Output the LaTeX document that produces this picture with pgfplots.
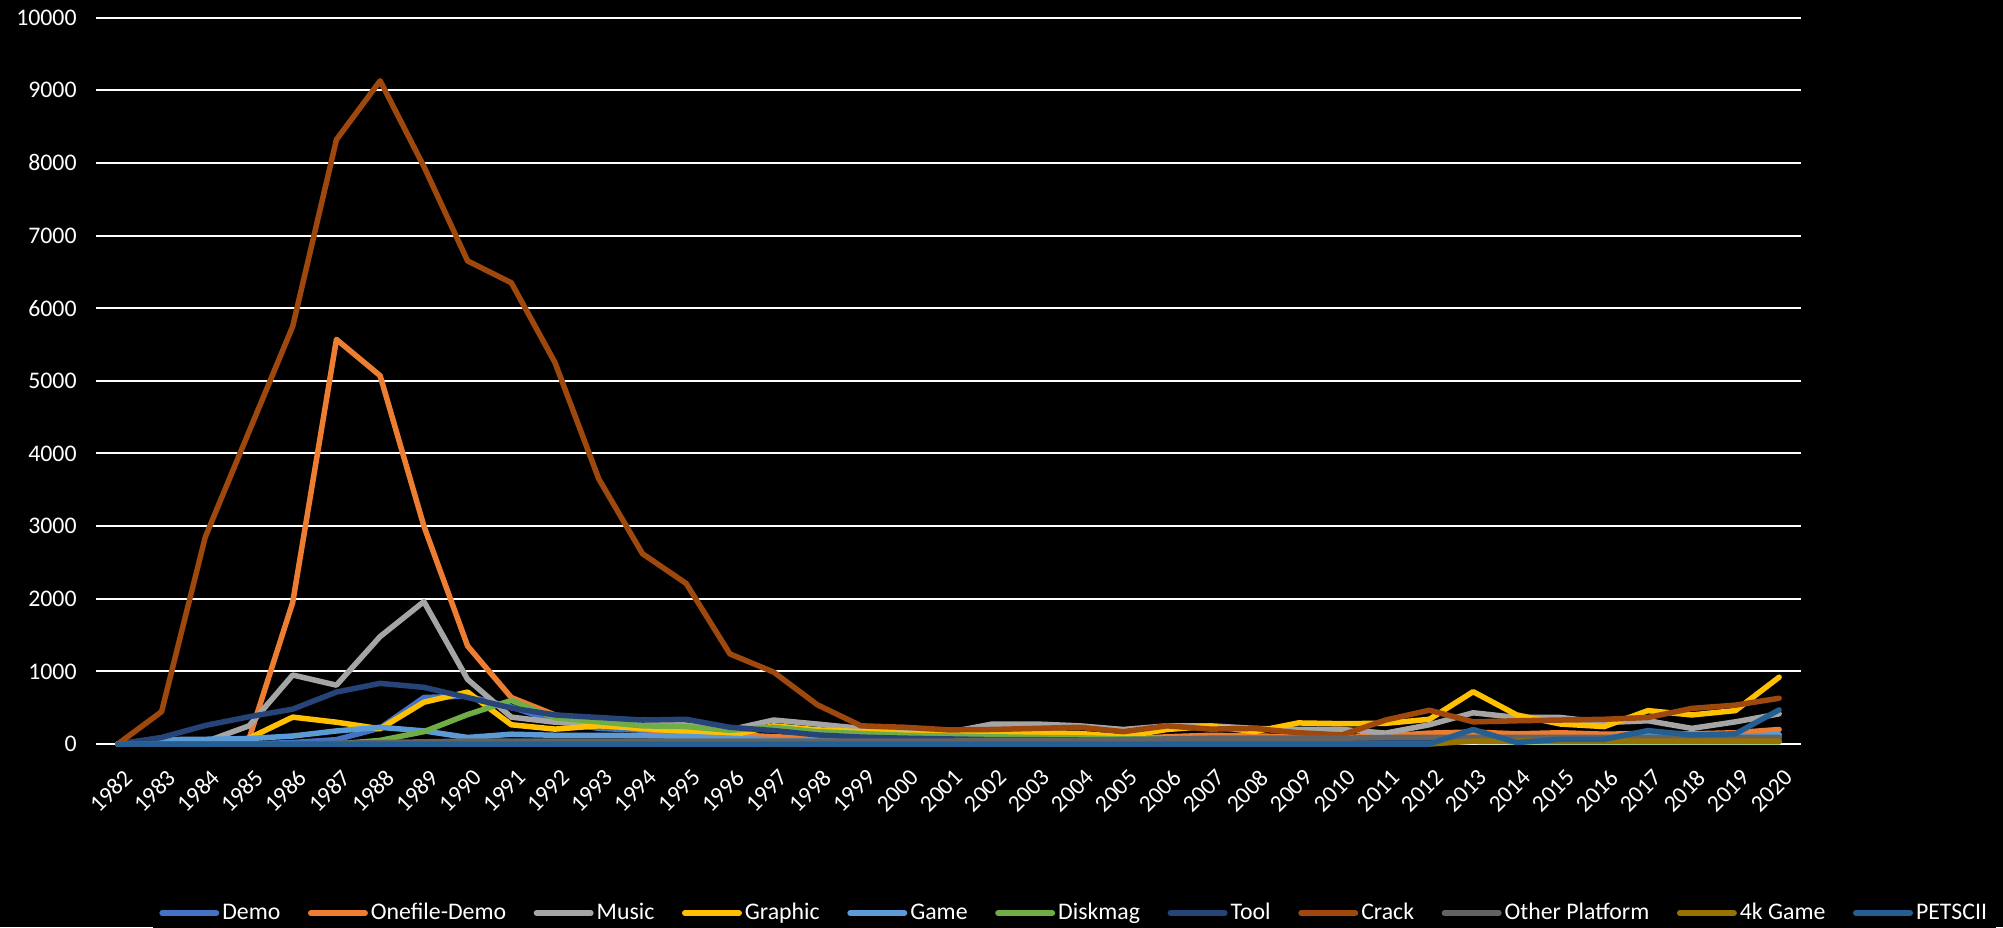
\documentclass[border=0pt]{standalone}
\usepackage{fontspec}
\setmainfont{Carlito}
\usepackage{pgfplots}
\usepackage{pgfplotstable}
\pgfplotsset{compat=1.18}

\definecolor{cDemo}{HTML}{4472C4}
\definecolor{cOnefile}{HTML}{ED7D31}
\definecolor{cMusic}{HTML}{A5A5A5}
\definecolor{cGraphic}{HTML}{FFC000}
\definecolor{cGame}{HTML}{5B9BD5}
\definecolor{cDiskmag}{HTML}{70AD47}
\definecolor{cTool}{HTML}{264478}
\definecolor{cCrack}{HTML}{9E480E}
\definecolor{cOther}{HTML}{636363}
\definecolor{cFourk}{HTML}{997300}
\definecolor{cPetscii}{HTML}{255E91}

\pgfplotstableread{
year demo onefile music graphic game diskmag tool crack other fourk petscii
1982 0 0 0 0 0 0 0 0 0 0 0
1983 0 0 0 0 60 0 90 445 0 0 0
1984 0 0 30 0 65 0 255 2850 0 0 0
1985 0 70 250 80 75 0 375 4300 0 0 0
1986 20 1950 950 370 110 0 480 5750 0 0 0
1987 60 5570 810 300 180 0 715 8320 10 0 0
1988 220 5070 1480 210 230 50 835 9130 20 0 0
1989 640 3000 1960 575 180 170 780 7950 30 0 0
1990 660 1350 890 715 90 405 640 6650 40 0 0
1991 510 640 370 265 135 600 495 6350 40 0 0
1992 310 400 300 205 120 360 400 5250 40 0 0
1993 215 280 290 250 120 305 365 3650 40 0 0
1994 190 200 330 215 115 250 330 2620 40 0 0
1995 150 170 260 170 105 240 340 2210 40 0 0
1996 100 130 195 115 80 190 230 1240 40 0 0
1997 80 100 330 250 60 230 185 990 40 0 0
1998 70 80 275 195 50 170 125 540 40 0 0
1999 60 60 215 170 45 145 95 250 40 0 0
2000 60 60 185 145 40 120 80 230 40 0 0
2001 55 60 160 125 40 110 70 195 40 0 0
2002 55 60 275 140 40 100 60 200 50 0 0
2003 55 70 275 155 40 90 60 215 50 0 0
2004 55 70 250 145 40 85 55 230 50 0 0
2005 50 60 200 100 35 70 50 170 60 0 0
2006 50 100 250 200 40 70 50 250 70 0 0
2007 55 120 250 245 40 60 50 205 80 0 0
2008 55 110 215 170 40 55 50 215 80 0 0
2009 55 100 200 290 40 50 50 155 80 0 0
2010 55 90 200 280 40 40 50 125 80 0 0
2011 60 110 150 285 45 40 55 330 90 0 0
2012 60 150 265 340 50 35 55 465 90 0 0
2013 60 165 430 720 50 35 60 305 90 40 200
2014 60 140 365 400 50 30 60 320 90 40 20
2015 60 155 365 275 60 30 60 330 90 40 65
2016 60 135 295 240 80 30 60 340 90 40 65
2017 70 145 320 460 150 30 60 365 90 40 185
2018 70 140 215 400 100 30 60 490 90 40 125
2019 80 155 305 460 100 30 60 535 90 40 140
2020 100 200 415 920 130 30 70 630 90 40 470
}\data

\begin{document}
\begin{tikzpicture}
\fill[black] (-48pt,-91.5pt) rectangle (953.5pt,372pt);
\useasboundingbox (-48pt,-91.5pt) rectangle (953.5pt,372pt);
\begin{axis}[
  at={(0,0)}, anchor=south west,
  scale only axis, width=852.5pt, height=363.2pt,
  xmin=1981.5, xmax=2020.5, ymin=0, ymax=10000,
  xtick={1982,...,2020}, ytick={0,1000,...,10000},
  scaled ticks=false,
  /pgf/number format/1000 sep={},
  /pgf/number format/assume math mode=true,
  axis line style={draw=none},
  major tick length=0pt,
  ymajorgrids, major grid style={white, line width=1pt},
  tick label style={white, font=\fontsize{11.9}{14}\selectfont},
  yticklabel style={anchor=east, inner sep=0pt, xshift=-9.5pt},
  xticklabel style={xshift=5.2pt, yshift=-14.8pt, rotate=45, anchor=east, inner sep=0pt},
  clip=false,
  every axis plot/.append style={line width=2.75pt, line join=round, line cap=round, mark=none},
  legend columns=-1,
  legend style={at={(0.574,-0.2327)}, anchor=center, draw=none, fill=black,
    text=white, font=\fontsize{11.9}{14}\selectfont,
    nodes={inner xsep=1.5pt},
    /tikz/every even column/.append style={column sep=12.3pt}},
  legend image code/.code={\draw[#1, line width=3pt, line cap=round] (1.5pt,0pt) -- (28.5pt,0pt);},
]
\addplot[cDemo] table[x=year, y=demo] {\data};
\addlegendentry{Demo}
\addplot[cOnefile] table[x=year, y=onefile] {\data};
\addlegendentry{Onefile-Demo}
\addplot[cMusic] table[x=year, y=music] {\data};
\addlegendentry{Music}
\addplot[cGraphic] table[x=year, y=graphic] {\data};
\addlegendentry{Graphic}
\addplot[cGame] table[x=year, y=game] {\data};
\addlegendentry{Game}
\addplot[cDiskmag] table[x=year, y=diskmag] {\data};
\addlegendentry{Diskmag}
\addplot[cTool] table[x=year, y=tool] {\data};
\addlegendentry{Tool}
\addplot[cCrack] table[x=year, y=crack] {\data};
\addlegendentry{Crack}
\addplot[cOther] table[x=year, y=other] {\data};
\addlegendentry{Other Platform}
\addplot[cFourk] table[x=year, y=fourk] {\data};
\addlegendentry{4k Game}
\addplot[cPetscii] table[x=year, y=petscii] {\data};
\addlegendentry{PETSCII}
\end{axis}
\end{tikzpicture}
\end{document}
